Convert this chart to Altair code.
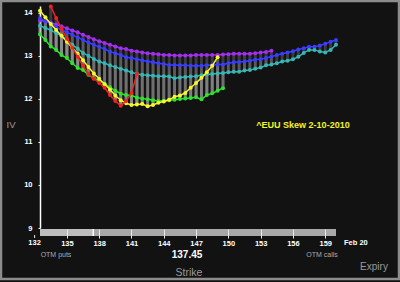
import altair as alt
import pandas as pd

# ---------------- data ----------------
STRIKES = [132.5, 133.0, 133.5, 134.0, 134.5, 135.0, 135.5, 136.0, 136.5, 137.0,
           137.5, 138.0, 138.5, 139.0, 139.5, 140.0, 140.5, 141.0, 141.5, 142.0,
           142.5, 143.0, 143.5, 144.0, 144.5, 145.0, 145.5, 146.0, 146.5, 147.0,
           147.5, 148.0, 148.5, 149.0, 149.5, 150.0, 150.5, 151.0, 151.5, 152.0,
           152.5, 153.0, 153.5, 154.0, 154.5, 155.0, 155.5, 156.0, 156.5, 157.0,
           157.5, 158.0, 158.5, 159.0, 159.5, 160.0]

PURPLE_IV = [13.83, 13.80, 13.77, 13.73, 13.69, 13.64, 13.59, 13.55, 13.49, 13.44,
             13.39, 13.34, 13.30, 13.26, 13.22, 13.18, 13.16, 13.12, 13.10, 13.08,
             13.06, 13.05, 13.04, 13.02, 13.02, 13.01, 13.01, 13.01, 13.01, 13.02,
             13.02, 13.02, 13.02, 13.02, 13.03, 13.04, 13.05, 13.05, 13.05, 13.05,
             13.06, 13.08, 13.09, 13.12]
BLUE_IV = [13.87, 13.81, 13.76, 13.67, 13.61, 13.55, 13.49, 13.43, 13.37, 13.31,
           13.26, 13.21, 13.16, 13.10, 13.06, 13.02, 12.97, 12.95, 12.92, 12.90,
           12.87, 12.85, 12.83, 12.81, 12.79, 12.79, 12.78, 12.78, 12.77, 12.77,
           12.77, 12.78, 12.79, 12.80, 12.80, 12.83, 12.85, 12.86, 12.87, 12.89,
           12.91, 12.92, 12.95, 12.98, 13.02, 13.05, 13.08, 13.11, 13.15, 13.18,
           13.21, 13.21, 13.24, 13.28, 13.33, 13.37]
TEAL_IV = [13.70, 13.65, 13.60, 13.53, 13.47, 13.37, 13.26, 13.17, 13.07, 13.00,
           12.93, 12.87, 12.83, 12.78, 12.74, 12.70, 12.66, 12.62, 12.58, 12.56,
           12.55, 12.54, 12.53, 12.53, 12.52, 12.48, 12.50, 12.51, 12.52, 12.53,
           12.55, 12.57, 12.58, 12.59, 12.60, 12.62, 12.63, 12.63, 12.66, 12.67,
           12.70, 12.73, 12.78, 12.80, 12.83, 12.87, 12.89, 12.92, 12.98, 13.07,
           13.14, 13.14, 13.10, 13.08, 13.14, 13.26]
GREEN_IV = [13.50, 13.37, 13.22, 13.14, 13.02, 12.95, 12.83, 12.72, 12.67, 12.56,
            12.48, 12.43, 12.35, 12.27, 12.19, 12.12, 12.09, 12.08, 12.03, 12.01,
            11.99, 11.97, 11.95, 11.96, 11.97, 11.98, 12.00, 12.01, 12.02, 12.04,
            11.99, 12.09, 12.13, 12.19, 12.25]
YELLOW_IV = [14.05, 13.90, 13.74, 13.60, 13.47, 13.33, 13.19, 13.05, 12.90, 12.74,
             12.59, 12.47, 12.34, 12.22, 12.08, 11.97, 11.90, 11.86, 11.87, 11.88,
             11.83, 11.86, 11.91, 11.94, 11.98, 12.05, 12.08, 12.14, 12.26, 12.37,
             12.49, 12.62, 12.77, 12.97]
RED_IV = [14.15, 13.88, 13.63, 13.40, 13.19, 12.98, 12.77, 12.58, 12.47, 12.37,
          12.26, 12.09, 11.95, 11.84, 11.95, 12.14, 12.58]

SERIES_NAMES = ["purple", "blue", "teal", "green", "yellow", "red"]
SERIES_VALUES = [PURPLE_IV, BLUE_IV, TEAL_IV, GREEN_IV, YELLOW_IV, RED_IV]
SERIES_FIRST_STRIKE = [132.5, 132.5, 132.5, 132.5, 132.5, 133.5]
SERIES_COLORS = ["#a22ef2", "#3a3cff", "#36b6b6", "#2ee22e", "#f6f62a", "#ee2222"]

X_TICKS = [135, 138, 141, 144, 147, 150, 153, 156, 159]
X_FIRST_LABEL = 132
Y_TICKS = [9, 10, 11, 12, 13, 14]
SPOT = 137.45
TITLE = "^EUU Skew 2-10-2010"
EXPIRY = "Feb 20"

rows = []
for name, vals, first in zip(SERIES_NAMES, SERIES_VALUES, SERIES_FIRST_STRIKE):
    start = STRIKES.index(first)
    for s, v in zip(STRIKES[start:], vals):
        rows.append({"series": name, "strike": s, "iv": v})
df = pd.DataFrame(rows)

# ---------------- encodings ----------------
FONT = "Liberation Sans"
XS = alt.Scale(domain=[STRIKES[0], STRIKES[-1]], nice=False, zero=False, padding=0)
YS = alt.Scale(domain=[9, 14.16], nice=False, zero=False, padding=0)
XAXIS = alt.Axis(values=X_TICKS, title=None, grid=False, domain=False,
                 labelColor="white", labelFont=FONT, labelFontWeight="bold",
                 labelFontSize=7.5, labelPadding=1, labelFlush=False,
                 labelOverlap=False, tickColor="#e8e8e8", tickSize=9,
                 tickWidth=1, offset=1, zindex=1)
YAXIS = alt.Axis(values=Y_TICKS, title=None, grid=False, domainColor="white",
                 domainWidth=1.5, tickColor="white", tickSize=2,
                 labelColor="white", labelFont=FONT, labelFontWeight="bold",
                 labelFontSize=7.5, labelPadding=6)


def xenc(field):
    return alt.X(field, scale=XS, axis=XAXIS)


def yenc(field):
    return alt.Y(field, scale=YS, axis=YAXIS)


base = alt.Chart(df)
one = pd.DataFrame({"k": [0]})

frame = alt.Chart(one).mark_rect(filled=False, stroke="#8c8c8c", strokeWidth=2.5).encode(
    x=alt.value(-39), x2=alt.value(359), y=alt.value(-5), y2=alt.value(273)
)

bars = base.transform_joinaggregate(
    lo="min(iv)", groupby=["strike"]
).mark_bar(size=3, color="#aaaaaa", opacity=0.27).encode(
    x=xenc("strike:Q"), y=yenc("iv:Q"), y2=alt.Y2("lo:Q")
)

layers = [frame, bars]
for name, col in zip(SERIES_NAMES, SERIES_COLORS):
    layers.append(
        base.transform_filter(alt.datum.series == name)
        .mark_line(color=col, strokeWidth=1.5,
                   point=alt.OverlayMarkDef(color=col, filled=True, size=16, opacity=1))
        .encode(x=xenc("strike:Q"), y=yenc("iv:Q"), order="strike:Q")
    )

band_df = pd.DataFrame({"x0": [STRIKES[0], SPOT], "x1": [SPOT, STRIKES[-1]],
                        "part": ["itm", "otm"]})
band = alt.Chart(band_df).mark_rect().encode(
    x=xenc("x0:Q"), x2=alt.X2("x1:Q"), y=alt.value(223), y2=alt.value(230),
    color=alt.Color("part:N", scale=alt.Scale(domain=["itm", "otm"],
                                              range=["#bdbdbd", "#a8a8a8"]), legend=None)
)
spot_rule = alt.Chart(pd.DataFrame({"spot": [SPOT]})).mark_rule(
    color="white", strokeWidth=1.5
).encode(x=xenc("spot:Q"), y=alt.value(223), y2=alt.value(230))

first_df = pd.DataFrame({"s": [X_FIRST_LABEL]})
first_tick = alt.Chart(first_df).mark_rule(color="#e8e8e8", strokeWidth=1).encode(
    x=xenc("s:Q"), y=alt.value(229), y2=alt.value(232)
)
first_label = alt.Chart(first_df).mark_text(
    font=FONT, fontSize=7.5, fontWeight="bold", color="white", baseline="top"
).encode(x=xenc("s:Q"), y=alt.value(233), text=alt.Text("s:Q"))
layers += [band, spot_rule, first_tick, first_label]


def label(text, x, y, size, color, weight="normal", align="center"):
    return alt.Chart(one).mark_text(
        text=text, font=FONT, fontSize=size, color=color, fontWeight=weight,
        align=align, baseline="middle"
    ).encode(x=alt.value(x), y=alt.value(y))


layers += [
    label(EXPIRY, 304, 237, 7.5, "white", "bold", "left"),
    label("OTM puts", 16, 249, 7, "#aaaaaa"),
    label("OTM calls", 282, 249, 7, "#aaaaaa"),
    label(f"{SPOT:.2f}", 147, 249, 10, "white", "bold"),
    label("Strike", 149, 267, 10.5, "#9a9a9a"),
    label("Expiry", 334, 261, 10, "#9a9a9a"),
    label("IV", -29, 119, 9.5, "#9a9a9a"),
    label(TITLE, 263, 119, 9, "#f2f22a", "bold"),
]

chart = alt.layer(*layers).properties(
    width=296, height=222,
    padding={"left": 40, "top": 6, "right": 64, "bottom": 54},
    autosize=alt.AutoSizeParams(type="none"),
).configure(background="#121212").configure_view(strokeWidth=0)

chart.save("out.html", embed_options={"renderer": "svg", "actions": False})
